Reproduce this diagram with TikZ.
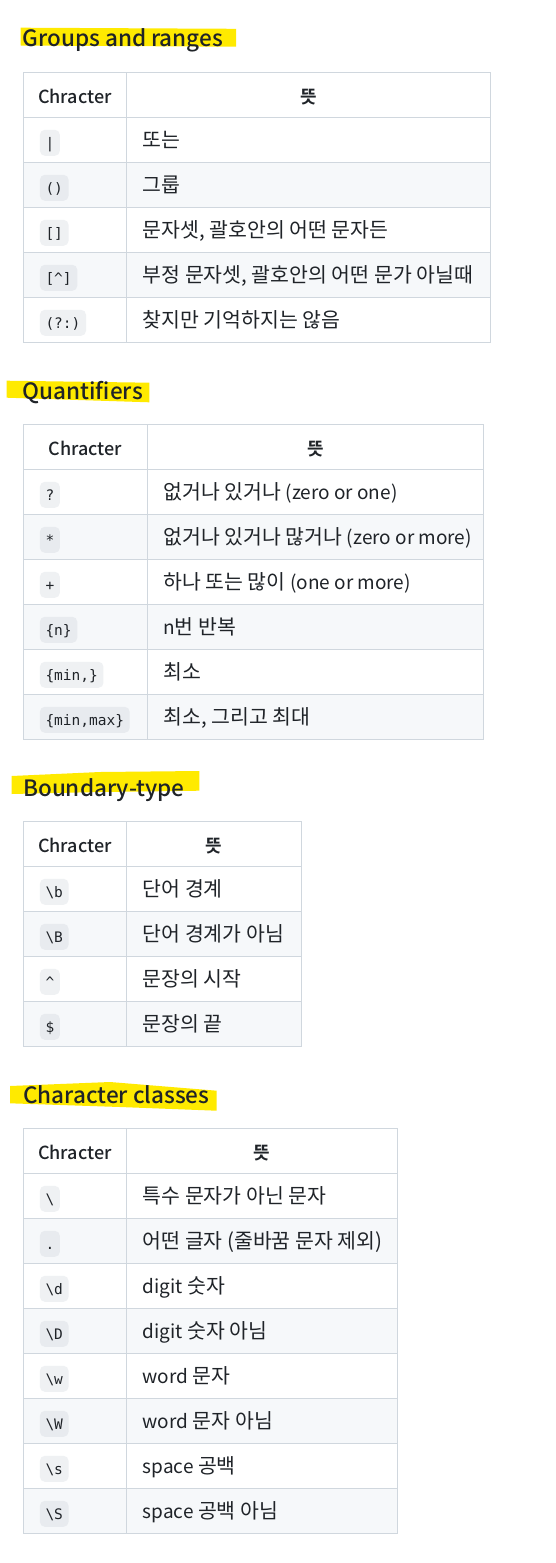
\documentclass[tikz,border=0pt]{standalone}
\usepackage{fontspec}
\setmainfont{Noto Sans CJK KR}[BoldFont={Noto Sans CJK KR Medium}]
\newfontfamily\kobold{Noto Sans CJK KR Bold}
\newfontfamily\codefont{DejaVu Sans Mono}
\definecolor{ink}{HTML}{1F2328}
\definecolor{gridc}{HTML}{D0D7DE}
\definecolor{rowg}{HTML}{F6F8FA}
\definecolor{codeW}{RGB}{239,241,243}
\definecolor{codeG}{RGB}{232,235,239}
\definecolor{hl}{RGB}{255,234,0}
\newcommand\la[1]{{\fontsize{19}{22}\selectfont #1}}
\tikzset{
 codebox/.style={anchor=west, rounded corners=5pt, inner xsep=5.6pt, inner ysep=0pt, minimum height=26pt, text height=13pt, text depth=1pt, font=\codefont\fontsize{14.5}{16}\selectfont, text=ink},
 desc/.style={anchor=base west, inner sep=0pt, font=\fontsize{20.5}{22}\selectfont, text=ink},
 headc/.style={anchor=base, inner sep=0pt, font=\bfseries\fontsize{18}{22}\selectfont, text=ink},
 headk/.style={anchor=base, inner sep=0pt, font=\kobold\fontsize{18}{22}\selectfont, text=ink},
 titletext/.style={anchor=base west, inner sep=0pt, font=\bfseries\fontsize{22.5}{28}\selectfont, text=ink},
 gridline/.style={draw=gridc, line width=1pt},
 hilite/.style={fill=hl},
}
\newcommand\tabrow[5]{%
 \ifnum#3=1
   \fill[rowg] (\tL,#2) rectangle (\tR,#2+45);
   \node[codebox,fill=codeG] (#1c) at (\tL+16.7,#2+25.5) {#4};
 \else
   \node[codebox,fill=codeW] (#1c) at (\tL+16.7,#2+25.5) {#4};
 \fi
 \node[desc] (#1d) at (\tD+15.8,#2+30.5) {#5};
}
\newcommand\tabhead[2]{%
 \node[headc] (#1h1) at ({(\tL+\tD)/2},#2+31) {Chracter};
 \node[headk] (#1h2) at ({(\tD+\tR)/2},#2+31) {뜻};
}
\newcommand\tabgrid[2]{%
 \foreach \k in {1,...,#2} \draw[gridline] (\tL,#1+45*\k) -- (\tR,#1+45*\k);
 \draw[gridline] (\tD,#1) -- (\tD,#1+45*#2+45);
 \draw[gridline] (\tL,#1) rectangle (\tR,#1+45*#2+45);
}
\begin{document}
\begin{tikzpicture}[x=1pt,y=-1pt]
\fill[white] (0,0) rectangle (555,1563);
\useasboundingbox (0,0) rectangle (555,1563);

% ---------- Groups and ranges
\fill[hilite] (20.7,27.7) -- (236,28.8) -- (236,46.7) -- (20.7,45.5) -- cycle;
\node[titletext] (t1) at (22.5,46.5) {Groups and ranges};
\def\tL{23}\def\tD{126.7}\def\tR{490}
\tabhead{a}{72.3}
\tabrow{a1}{117.3}{0}{|}{또는}
\tabrow{a2}{162.3}{1}{()}{그룹}
\tabrow{a3}{207.3}{0}{[]}{문자셋, 괄호안의 어떤 문자든}
\tabrow{a4}{252.3}{1}{[\textasciicircum]}{부정 문자셋, 괄호안의 어떤 문가 아닐때}
\tabrow{a5}{297.3}{0}{(?:)}{찾지만 기억하지는 않음}
\tabgrid{72.3}{5}

% ---------- Quantifiers
\fill[hilite] (6.7,380.7) -- (149.3,382.7) -- (149.3,402.3) -- (6.7,397.7) -- cycle;
\node[titletext] (t2) at (22.5,399.5) {Quantifiers};
\def\tL{23}\def\tD{147.3}\def\tR{483.3}
\tabhead{b}{424.3}
\tabrow{b1}{469.3}{0}{?}{없거나 있거나 \la{(zero or one)}}
\tabrow{b2}{514.3}{1}{*}{없거나 있거나 많거나 \la{(zero or more)}}
\tabrow{b3}{559.3}{0}{+}{하나 또는 많이 \la{(one or more)}}
\tabrow{b4}{604.3}{1}{\{n\}}{\la{n}번 반복}
\tabrow{b5}{649.3}{0}{\{min,\}}{최소}
\tabrow{b6}{694.3}{1}{\{min,max\}}{최소, 그리고 최대}
\tabgrid{424.3}{6}

% ---------- Boundary-type
\fill[hilite] (11.7,776) -- (100,772) -- (199.3,771) -- (199.3,790.7) -- (100,792) -- (11.7,794) -- cycle;
\node[titletext] (t3) at (23,796) {Boundary-type};
\def\tL{23}\def\tD{126.7}\def\tR{301}
\tabhead{c}{821.3}
\tabrow{c1}{866.3}{0}{\textbackslash b}{단어 경계}
\tabrow{c2}{911.3}{1}{\textbackslash B}{단어 경계가 아님}
\tabrow{c3}{956.3}{0}{\textasciicircum}{문장의 시작}
\tabrow{c4}{1001.3}{1}{\$}{문장의 끝}
\tabgrid{821.3}{4}

% ---------- Character classes
\fill[hilite] (10,1086) -- (110,1082) -- (216.7,1090.7) -- (216.7,1110.7) -- (120,1107) -- (10,1103.3) -- cycle;
\node[titletext] (t4) at (23,1103.5) {Character classes};
\def\tL{23}\def\tD{126.7}\def\tR{397.7}
\tabhead{d}{1128.3}
\tabrow{d1}{1173.3}{0}{\textbackslash}{특수 문자가 아닌 문자}
\tabrow{d2}{1218.3}{1}{.}{어떤 글자 (줄바꿈 문자 제외)}
\tabrow{d3}{1263.3}{0}{\textbackslash d}{\la{digit} 숫자}
\tabrow{d4}{1308.3}{1}{\textbackslash D}{\la{digit} 숫자 아님}
\tabrow{d5}{1353.3}{0}{\textbackslash w}{\la{word} 문자}
\tabrow{d6}{1398.3}{1}{\textbackslash W}{\la{word} 문자 아님}
\tabrow{d7}{1443.3}{0}{\textbackslash s}{\la{space} 공백}
\tabrow{d8}{1488.3}{1}{\textbackslash S}{\la{space} 공백 아님}
\tabgrid{1128.3}{8}
\end{tikzpicture}
\end{document}
